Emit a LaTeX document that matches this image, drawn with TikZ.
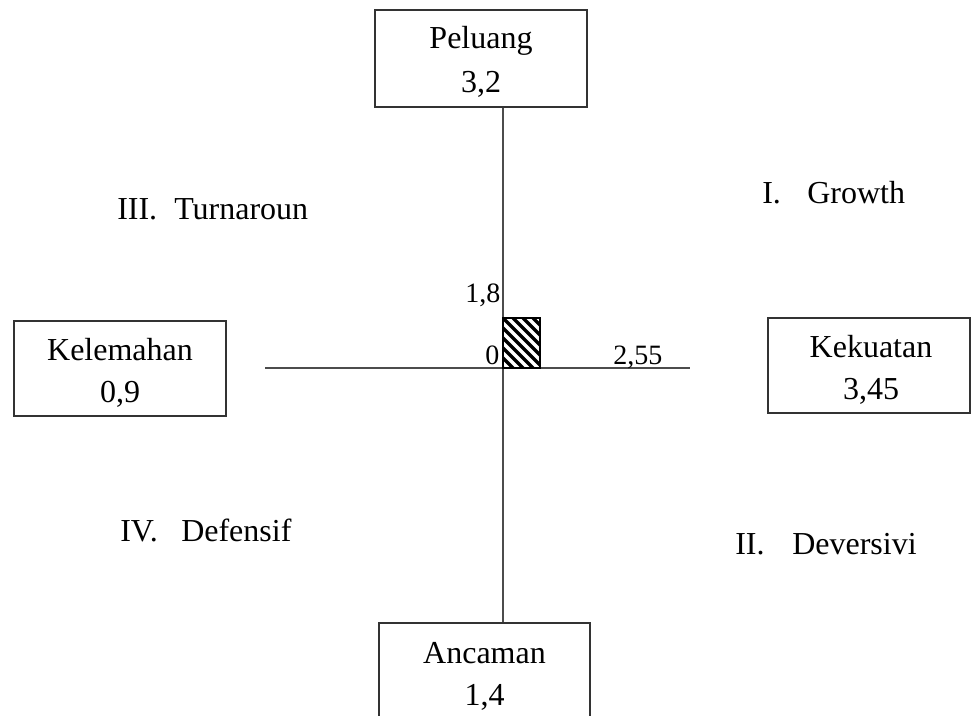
\documentclass[tikz,border=0pt]{standalone}
\usepackage{fontspec}
\setmainfont{Liberation Serif}
\begin{document}
\begin{tikzpicture}[x=0.75pt,y=-0.75pt,
  box/.style={draw=black!80, line width=1pt, inner sep=0pt, fill=white},
  txt/.style={font=\fontsize{24}{28}\selectfont, anchor=base, inner sep=0pt},
  txtw/.style={font=\fontsize{24}{28}\selectfont, anchor=base west, inner sep=0pt},
  small/.style={font=\fontsize{21}{25}\selectfont, anchor=base west, inner sep=0pt},
  axis/.style={draw=black!70, line width=1pt},
  hatchbox/.style={draw=black, line width=1.3pt, inner sep=0pt,
    minimum width=27.75pt, minimum height=37.5pt,
    path picture={
      \foreach \i in {-9,...,5} {
        \draw[line width=2.4pt] ([xshift=\i*7.5pt]path picture bounding box.north west) -- ++(70pt,-70pt);
      }
    }}
]
\useasboundingbox (0,0) rectangle (971,716);
\clip (0,0) rectangle (971,716);

% boxes
\node[box, minimum width=159pt, minimum height=72.75pt] (peluang) at (481,58.5) {};
\node[box, minimum width=159pt, minimum height=71.25pt] (kelemahan) at (120,368.5) {};
\node[box, minimum width=151.5pt, minimum height=71.25pt] (kekuatan) at (869,365.5) {};
\node[box, minimum width=158.25pt, minimum height=75pt] (ancaman) at (484.5,673) {};

% box texts
\node[txt] (peluangA) at (481,49) {Peluang};
\node[txt] (peluangB) at (481,93) {3,2};
\node[txt] (kelemahanA) at (120,361) {Kelemahan};
\node[txt] (kelemahanB) at (120,403) {0,9};
\node[txt] (kekuatanA) at (871,358) {Kekuatan};
\node[txt] (kekuatanB) at (871,400) {3,45};
\node[txt] (ancamanA) at (484.5,663) {Ancaman};
\node[txt] (ancamanB) at (484.5,705) {1,4};

% axes
\coordinate (o) at (503,368);
\coordinate (hl) at (265,368);
\coordinate (hr) at (690,368);
\draw[axis] (o |- peluang.south) -- (o |- ancaman.north);
\draw[axis] (hl) -- (hr);

% hatched box
\node[hatchbox] (hatch) at (521.5,343) {};

% axis labels
\node[small] (l18) at (465,303) {1,8};
\node[small] (l0) at (485,365) {0};
\node[small] (l255) at (613,365) {2,55};

% quadrant labels
\node[txtw] (q3n) at (117,220) {III.};
\node[txtw] (q3w) at (174,220) {Turnaroun};
\node[txtw] (q1n) at (762,204) {I.};
\node[txtw] (q1w) at (807,204) {Growth};
\node[txtw] (q4n) at (120,541) {IV.};
\node[txtw] (q4w) at (181,541) {Defensif};
\node[txtw] (q2n) at (735,554) {II.};
\node[txtw] (q2w) at (792,554) {Deversivi};
\end{tikzpicture}
\end{document}
